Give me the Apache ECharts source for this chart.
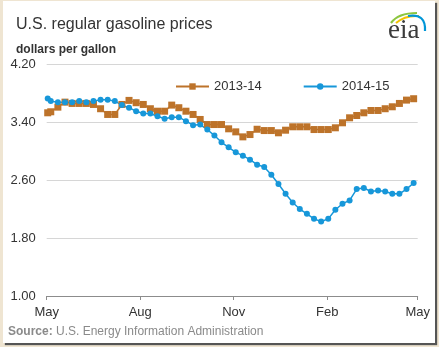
<!DOCTYPE html>
<html><head><meta charset="utf-8">
<script src="https://cdn.jsdelivr.net/npm/echarts@6/dist/echarts.min.js"></script>
<style>
html,body{margin:0;padding:0;width:439px;height:347px;overflow:hidden;background:#efe5d2;}
#frame{position:absolute;left:3px;top:1px;width:432px;height:342px;background:#fff;box-shadow:2px 2px 1px #555;}
#chart{position:absolute;left:0;top:0;width:439px;height:347px;}
</style></head><body><div id="frame"></div><div id="chart"></div>
<script>
// days since May 1 (weekly observations)
const weekDays = [1,4,11,18,25,32,39,46,53,60,67,74,81,88,95,102,109,116,123,130,137,144,151,158,165,172,179,186,193,200,207,214,221,228,235,242,249,256,263,270,277,284,291,298,305,312,319,326,333,340,347,354,361];
const seriesNames = ['2013-14','2014-15'];
const prices1314 = [3.527,3.541,3.605,3.674,3.656,3.656,3.656,3.642,3.583,3.504,3.504,3.642,3.698,3.666,3.642,3.583,3.549,3.549,3.633,3.597,3.549,3.504,3.435,3.365,3.365,3.365,3.306,3.264,3.195,3.227,3.300,3.282,3.282,3.251,3.287,3.334,3.334,3.334,3.296,3.296,3.296,3.320,3.389,3.458,3.490,3.527,3.559,3.559,3.583,3.610,3.656,3.702,3.721];
const prices1415 = [3.725,3.688,3.674,3.674,3.674,3.688,3.674,3.688,3.707,3.707,3.688,3.633,3.597,3.549,3.518,3.518,3.480,3.444,3.466,3.466,3.411,3.356,3.365,3.296,3.213,3.120,3.051,2.982,2.936,2.881,2.812,2.780,2.673,2.545,2.410,2.290,2.199,2.134,2.064,2.027,2.064,2.189,2.272,2.318,2.475,2.489,2.442,2.456,2.442,2.410,2.410,2.475,2.558];
const xTickDays = [0,92,184,276,365];
const xTickLabels = ['May','Aug','Nov','Feb','May'];
const yMin = 1.00, yMax = 4.20, yStep = 0.80;

const F = "'Liberation Sans', Arial, sans-serif";
const chart = echarts.init(document.getElementById('chart'), null, {renderer:'canvas'});
const pair = (xs, ys) => xs.map((x,i)=>[x, ys[i]]);
chart.setOption({
  animation:false,
  backgroundColor:'transparent',
  textStyle:{fontFamily:F},
  title:[
    {text:'U.S. regular gasoline prices', left:11, top:12, textStyle:{fontFamily:F,fontSize:16,fontWeight:'normal',color:'#333'}},
    {text:'dollars per gallon', left:11, top:39, textStyle:{fontFamily:F,fontSize:12,fontWeight:'bold',color:'#333'}},
    {text:'{b|Source:} U.S. Energy Information Administration', left:3, top:321,
     textStyle:{fontFamily:F,fontSize:12,fontWeight:'normal',color:'#8a8a8a',rich:{b:{fontFamily:F,fontSize:12,fontWeight:'bold',color:'#8a8a8a'}}}}
  ],
  legend:{left:170, top:75, itemWidth:33, itemHeight:8, itemGap:41,
    textStyle:{fontFamily:F,fontSize:13,color:'#333'}, data:seriesNames},
  grid:{left:46.7, right:21.3, top:64, bottom:51, containLabel:false},
  xAxis:{type:'value', min:0, max:365,
    axisLine:{show:true,lineStyle:{color:'#8c8c8c',width:1}},
    axisTick:{show:true,length:4,customValues:xTickDays,lineStyle:{color:'#8c8c8c'}},
    axisLabel:{customValues:xTickDays, margin:10, fontFamily:F, fontSize:13, color:'#333',
      formatter:(v)=>{const i=xTickDays.indexOf(v);return i>=0?xTickLabels[i]:'';}},
    splitLine:{show:false}},
  yAxis:{type:'value', min:yMin, max:yMax, interval:yStep,
    axisLine:{show:false}, axisTick:{show:false},
    axisLabel:{margin:11, fontFamily:F, fontSize:13, color:'#333', formatter:(v)=>v.toFixed(2)},
    splitLine:{show:true,lineStyle:{color:'#d6d6d6',width:1}}},
  series:[
    {name:seriesNames[0], type:'line', data:pair(weekDays,prices1314), symbol:'rect', symbolSize:7,
     itemStyle:{color:'#bd732a'}, lineStyle:{color:'#bd732a',width:1.5}},
    {name:seriesNames[1], type:'line', data:pair(weekDays,prices1415), symbol:'circle', symbolSize:6,
     itemStyle:{color:'#1797d9'}, lineStyle:{color:'#1797d9',width:1.5}}
  ],
  graphic:[
    {type:'bezierCurve', shape:{x1:391,y1:23,cpx1:398,cpy1:13,x2:417,y2:13}, style:{stroke:'#8cc63f',lineWidth:2.2,fill:null}},
    {type:'bezierCurve', shape:{x1:396,y1:23,cpx1:405,cpy1:15,x2:419,y2:16}, style:{stroke:'#f2c200',lineWidth:2,fill:null}},
    {type:'bezierCurve', shape:{x1:408,y1:16,cpx1:426,cpy1:13,x2:425,y2:31}, style:{stroke:'#0096d7',lineWidth:2.2,fill:null}},
    {type:'text', left:388, top:17, style:{text:'eia', font:"27px 'Liberation Serif', 'DejaVu Serif', serif", fill:'#3b3b3b'}}
  ]
});
</script></body></html>
